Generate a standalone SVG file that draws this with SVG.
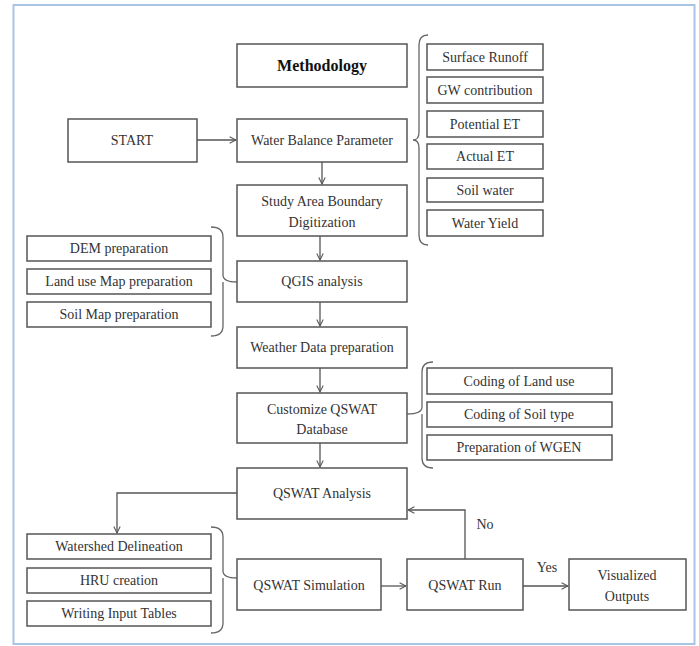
<svg xmlns="http://www.w3.org/2000/svg" width="699" height="646" viewBox="0 0 699 646">
<defs>
<marker id="arr" viewBox="0 0 10 10" refX="9" refY="5" markerWidth="8" markerHeight="8" markerUnits="userSpaceOnUse" orient="auto">
<path d="M1,1 L9,5 L1,9" fill="none" stroke="#555" stroke-width="1.3"/>
</marker>
</defs>
<style>
.b{fill:#fff;stroke:#555;stroke-width:1.5}
.t{font-family:"Liberation Serif","Times New Roman",serif;font-size:14px;fill:#333;text-anchor:middle}
.s{font-family:"Liberation Serif","Times New Roman",serif;font-size:14px;fill:#333;text-anchor:middle}
.h{font-family:"Liberation Serif","Times New Roman",serif;font-size:16px;font-weight:bold;fill:#111;text-anchor:middle}
.c{fill:none;stroke:#555;stroke-width:1.3}
.br{fill:none;stroke:#666;stroke-width:1.3}
</style>
<rect width="699" height="646" fill="#fff"/>
<rect x="13.5" y="5" width="681" height="639" fill="none" stroke="#a9c4e4" stroke-width="2"/>

<g id="methodology"><rect class="b" x="237" y="44" width="170" height="43"/><text class="h" x="322" y="71">Methodology</text></g>
<g id="start"><rect class="b" x="68" y="119" width="129" height="43"/><text class="t" x="132" y="145">START</text></g>
<g id="wbp"><rect class="b" x="237" y="119" width="170" height="43"/><text class="t" x="322" y="145">Water Balance Parameter</text></g>
<g id="study"><rect class="b" x="237" y="185" width="170" height="51"/><text class="t" x="322" y="206">Study Area Boundary</text><text class="t" x="322" y="227">Digitization</text></g>
<g id="qgis"><rect class="b" x="237" y="261" width="170" height="41"/><text class="t" x="322" y="286">QGIS analysis</text></g>
<g id="weather"><rect class="b" x="237" y="327" width="170" height="41"/><text class="t" x="322" y="352">Weather Data preparation</text></g>
<g id="customize"><rect class="b" x="237" y="393" width="170" height="50"/><text class="t" x="322" y="414">Customize QSWAT</text><text class="t" x="322" y="434">Database</text></g>
<g id="qswat-analysis"><rect class="b" x="237" y="468" width="170" height="51"/><text class="t" x="322" y="498">QSWAT Analysis</text></g>
<g id="qswat-sim"><rect class="b" x="237" y="559" width="144" height="51"/><text class="t" x="309" y="590">QSWAT Simulation</text></g>
<g id="qswat-run"><rect class="b" x="407" y="559" width="116" height="51"/><text class="t" x="465" y="590">QSWAT Run</text></g>
<g id="visualized"><rect class="b" x="569" y="559" width="117" height="51"/><text class="t" x="627" y="580">Visualized</text><text class="t" x="627" y="601">Outputs</text></g>

<g id="surface-runoff"><rect class="b" x="427" y="44" width="116" height="26"/><text class="s" x="485" y="62">Surface Runoff</text></g>
<g id="gw"><rect class="b" x="427" y="77" width="116" height="26"/><text class="s" x="485" y="95">GW contribution</text></g>
<g id="pet"><rect class="b" x="427" y="111" width="116" height="26"/><text class="s" x="485" y="129">Potential ET</text></g>
<g id="aet"><rect class="b" x="427" y="144" width="116" height="25"/><text class="s" x="485" y="161">Actual ET</text></g>
<g id="soilwater"><rect class="b" x="427" y="178" width="116" height="24"/><text class="s" x="485" y="195">Soil water</text></g>
<g id="wyield"><rect class="b" x="427" y="210" width="116" height="26"/><text class="s" x="485" y="228">Water Yield</text></g>

<g id="dem"><rect class="b" x="27" y="236" width="184" height="25"/><text class="s" x="119" y="253">DEM preparation</text></g>
<g id="landuse"><rect class="b" x="27" y="269" width="184" height="25"/><text class="s" x="119" y="286">Land use Map preparation</text></g>
<g id="soilmap"><rect class="b" x="27" y="302" width="184" height="25"/><text class="s" x="119" y="319">Soil Map preparation</text></g>

<g id="coding-lu"><rect class="b" x="427" y="368" width="185" height="26"/><text class="s" x="519" y="386">Coding of Land use</text></g>
<g id="coding-soil"><rect class="b" x="427" y="402" width="185" height="25"/><text class="s" x="519" y="419">Coding of Soil type</text></g>
<g id="wgen"><rect class="b" x="427" y="435" width="185" height="25"/><text class="s" x="519" y="452">Preparation of  WGEN</text></g>

<g id="watershed"><rect class="b" x="27" y="534" width="184" height="25"/><text class="s" x="119" y="551">Watershed Delineation</text></g>
<g id="hru"><rect class="b" x="27" y="568" width="184" height="25"/><text class="s" x="119" y="585">HRU creation</text></g>
<g id="writing"><rect class="b" x="27" y="601" width="184" height="25"/><text class="s" x="119" y="618">Writing Input Tables</text></g>

<g id="connectors">
<path class="br" d="M428,35 Q419,35 419,45 L419,132 Q419,140 413,140 Q419,140 419,148 L419,235 Q419,245 428,245"/>
<path class="br" d="M211,227 Q223,227 223,237 L223,275 Q223,282 237,282 M223,282 Q223,289 223,296 L223,326 Q223,336 211,336"/>
<path class="br" d="M433,362 Q422,362 422,372 L422,407 Q422,414 407,414 M422,414 L422,458 Q422,468 433,468"/>
<path class="br" d="M211,527 Q223,527 223,537 L223,571 Q223,578 237,578 M223,578 L223,623 Q223,633 211,633"/>
<line class="c" x1="197" y1="140" x2="236" y2="140" marker-end="url(#arr)"/>
<line class="c" x1="322" y1="162" x2="322" y2="184" marker-end="url(#arr)"/>
<line class="c" x1="320" y1="236" x2="320" y2="260" marker-end="url(#arr)"/>
<line class="c" x1="320" y1="302" x2="320" y2="326" marker-end="url(#arr)"/>
<line class="c" x1="320" y1="368" x2="320" y2="392" marker-end="url(#arr)"/>
<line class="c" x1="320" y1="443" x2="320" y2="467" marker-end="url(#arr)"/>
<path class="c" d="M237,493 L117,493 L117,533" marker-end="url(#arr)"/>
<line class="c" x1="381" y1="586" x2="406" y2="586" marker-end="url(#arr)"/>
<line class="c" x1="523" y1="586" x2="568" y2="586" marker-end="url(#arr)"/>
<path class="c" d="M465,559 L465,510 L408,510" marker-end="url(#arr)"/>
<text class="t" x="547" y="572">Yes</text>
<text class="t" x="485" y="529">No</text>
</g>
</svg>
